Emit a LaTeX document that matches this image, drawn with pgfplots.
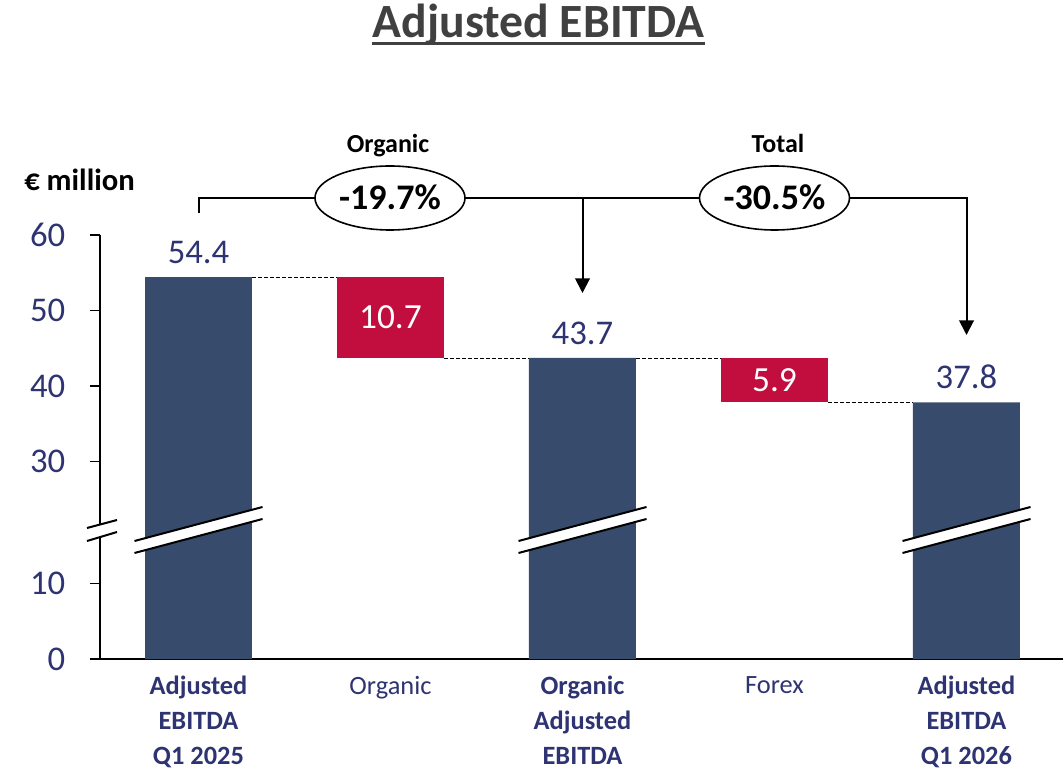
\documentclass[border=0pt]{standalone}
\usepackage{pgfplots}
\pgfplotsset{compat=1.18}
\usepackage{fontspec}
\setmainfont{Carlito}
\usetikzlibrary{arrows.meta}
\definecolor{navybar}{HTML}{374B6C}
\definecolor{redbar}{HTML}{C20E3E}
\definecolor{navytxt}{HTML}{2E3372}
\definecolor{titlegray}{HTML}{404040}
\begin{document}
\begin{tikzpicture}
\useasboundingbox (0,0) rectangle (797.25pt,578.25pt);
\begin{axis}[
  at={(75pt,84pt)}, anchor=south west,
  scale only axis, width=722.25pt, height=318pt,
  xmin=-0.513, xmax=4.503, ymin=0, ymax=56.2,
  axis x line*=bottom, axis y line*=left,
  axis line style={line width=1.2pt, -},
  xtick={0,1,2,3,4},
  xticklabels={{\textbf{Adjusted}\\\textbf{EBITDA}\\\textbf{Q1 2025}},
               {Organic},
               {\textbf{Organic}\\\textbf{Adjusted}\\\textbf{EBITDA}},
               {Forex},
               {\textbf{Adjusted}\\\textbf{EBITDA}\\\textbf{Q1 2026}}},
  x tick style={draw=none},
  ytick={0,10,26.2,36.2,46.2,56.2},
  yticklabels={0,10,30,40,50,60},
  y tick style={line width=1.2pt, black},
  tick align=outside, major tick length=7.5pt,
  y filter/.expression={y>=20 ? y-3.8 : y},
  clip=false,
  no markers,
  yticklabel style={font=\fontsize{26}{26}\selectfont, text=navytxt, xshift=-15pt},
  xticklabel style={font=\fontsize{19.8}{26}\selectfont, text=navytxt, align=center, anchor=north, yshift=-2pt},
  /pgf/number format/assume math mode=true,
]
% total bars
\addplot[ybar, bar width=0.557, bar shift=0pt, fill=navybar, draw=none,
  nodes near coords, point meta=explicit symbolic,
  nodes near coords style={font=\fontsize{26}{26}\selectfont, text=navytxt, anchor=south, yshift=6.5pt}]
  coordinates {(0,54.4)[54.4] (2,43.7)[43.7] (4,37.8)[37.8]};
% floating bars
\addplot[fill=redbar, draw=none] coordinates {(0.7215,43.7) (1.2785,43.7) (1.2785,54.4) (0.7215,54.4)} --cycle;
\addplot[fill=redbar, draw=none] coordinates {(2.7215,37.8) (3.2785,37.8) (3.2785,43.7) (2.7215,43.7)} --cycle;
\addplot[draw=none, nodes near coords, point meta=explicit symbolic,
  nodes near coords style={font=\fontsize{26.5}{26.5}\selectfont, text=white, anchor=center}]
  coordinates {(1,49.05)[10.7] (3,40.75)[5.9]};
% connectors
\addplot[black, line width=0.6pt, dash pattern=on 3pt off 1.5pt] coordinates {(0.2785,54.4) (0.7215,54.4)};
\addplot[black, line width=0.6pt, dash pattern=on 3pt off 1.5pt] coordinates {(1.2785,43.7) (1.7215,43.7)};
\addplot[black, line width=0.6pt, dash pattern=on 3pt off 1.5pt] coordinates {(2.2785,43.7) (2.7215,43.7)};
\addplot[black, line width=0.6pt, dash pattern=on 3pt off 1.5pt] coordinates {(3.2785,37.8) (3.7215,37.8)};
\end{axis}
\begin{scope}[x=0.75pt, y=-0.75pt, yshift=578.25pt]
% bar breaks
\foreach \bx in {198.5,582.5,966.5} {
  \fill[white] (\bx-64,541) -- (\bx+64,507) -- (\bx+64,519) -- (\bx-64,553) -- cycle;
  \draw[line width=1.5pt] (\bx-64,541) -- (\bx+64,507);
  \draw[line width=1.5pt] (\bx-64,553) -- (\bx+64,519);
}
% axis break
\fill[white] (87,528) -- (117,520) -- (117,532) -- (87,541) -- cycle;
\draw[line width=1.5pt] (87,528) -- (117,520);
\draw[line width=1.5pt] (87,541) -- (117,532);
% annotations
\draw[line width=1.5pt, -{Triangle[length=11pt,width=11pt]}] (198.5,213) -- (198.5,198) -- (966.5,198) -- (966.5,335);
\draw[line width=1.5pt, -{Triangle[length=11pt,width=11pt]}] (582.5,198) -- (582.5,293);
\draw[line width=1.2pt, fill=white] (390,198) ellipse [x radius=75, y radius=32];
\draw[line width=1.2pt, fill=white] (774.5,198) ellipse [x radius=75, y radius=32];
\node[anchor=base, font=\bfseries\fontsize{27}{27}\selectfont] at (390,210) {-19.7\%};
\node[anchor=base, font=\bfseries\fontsize{27}{27}\selectfont] at (774.5,210) {-30.5\%};
\node[anchor=base, font=\bfseries\fontsize{19.5}{19.5}\selectfont] at (388,153) {Organic};
\node[anchor=base, font=\bfseries\fontsize{19.5}{19.5}\selectfont] at (778,153) {Total};
\node[anchor=base, font=\bfseries\fontsize{23}{23}\selectfont] at (79.5,191) {€ million};
% title
\node[anchor=base, text=titlegray, font=\bfseries\fontsize{35.8}{36}\selectfont] at (538.5,38) {Adjusted EBITDA};
\draw[titlegray, line width=2.25pt] (372,44) -- (705,44);
\end{scope}
\end{tikzpicture}
\end{document}
